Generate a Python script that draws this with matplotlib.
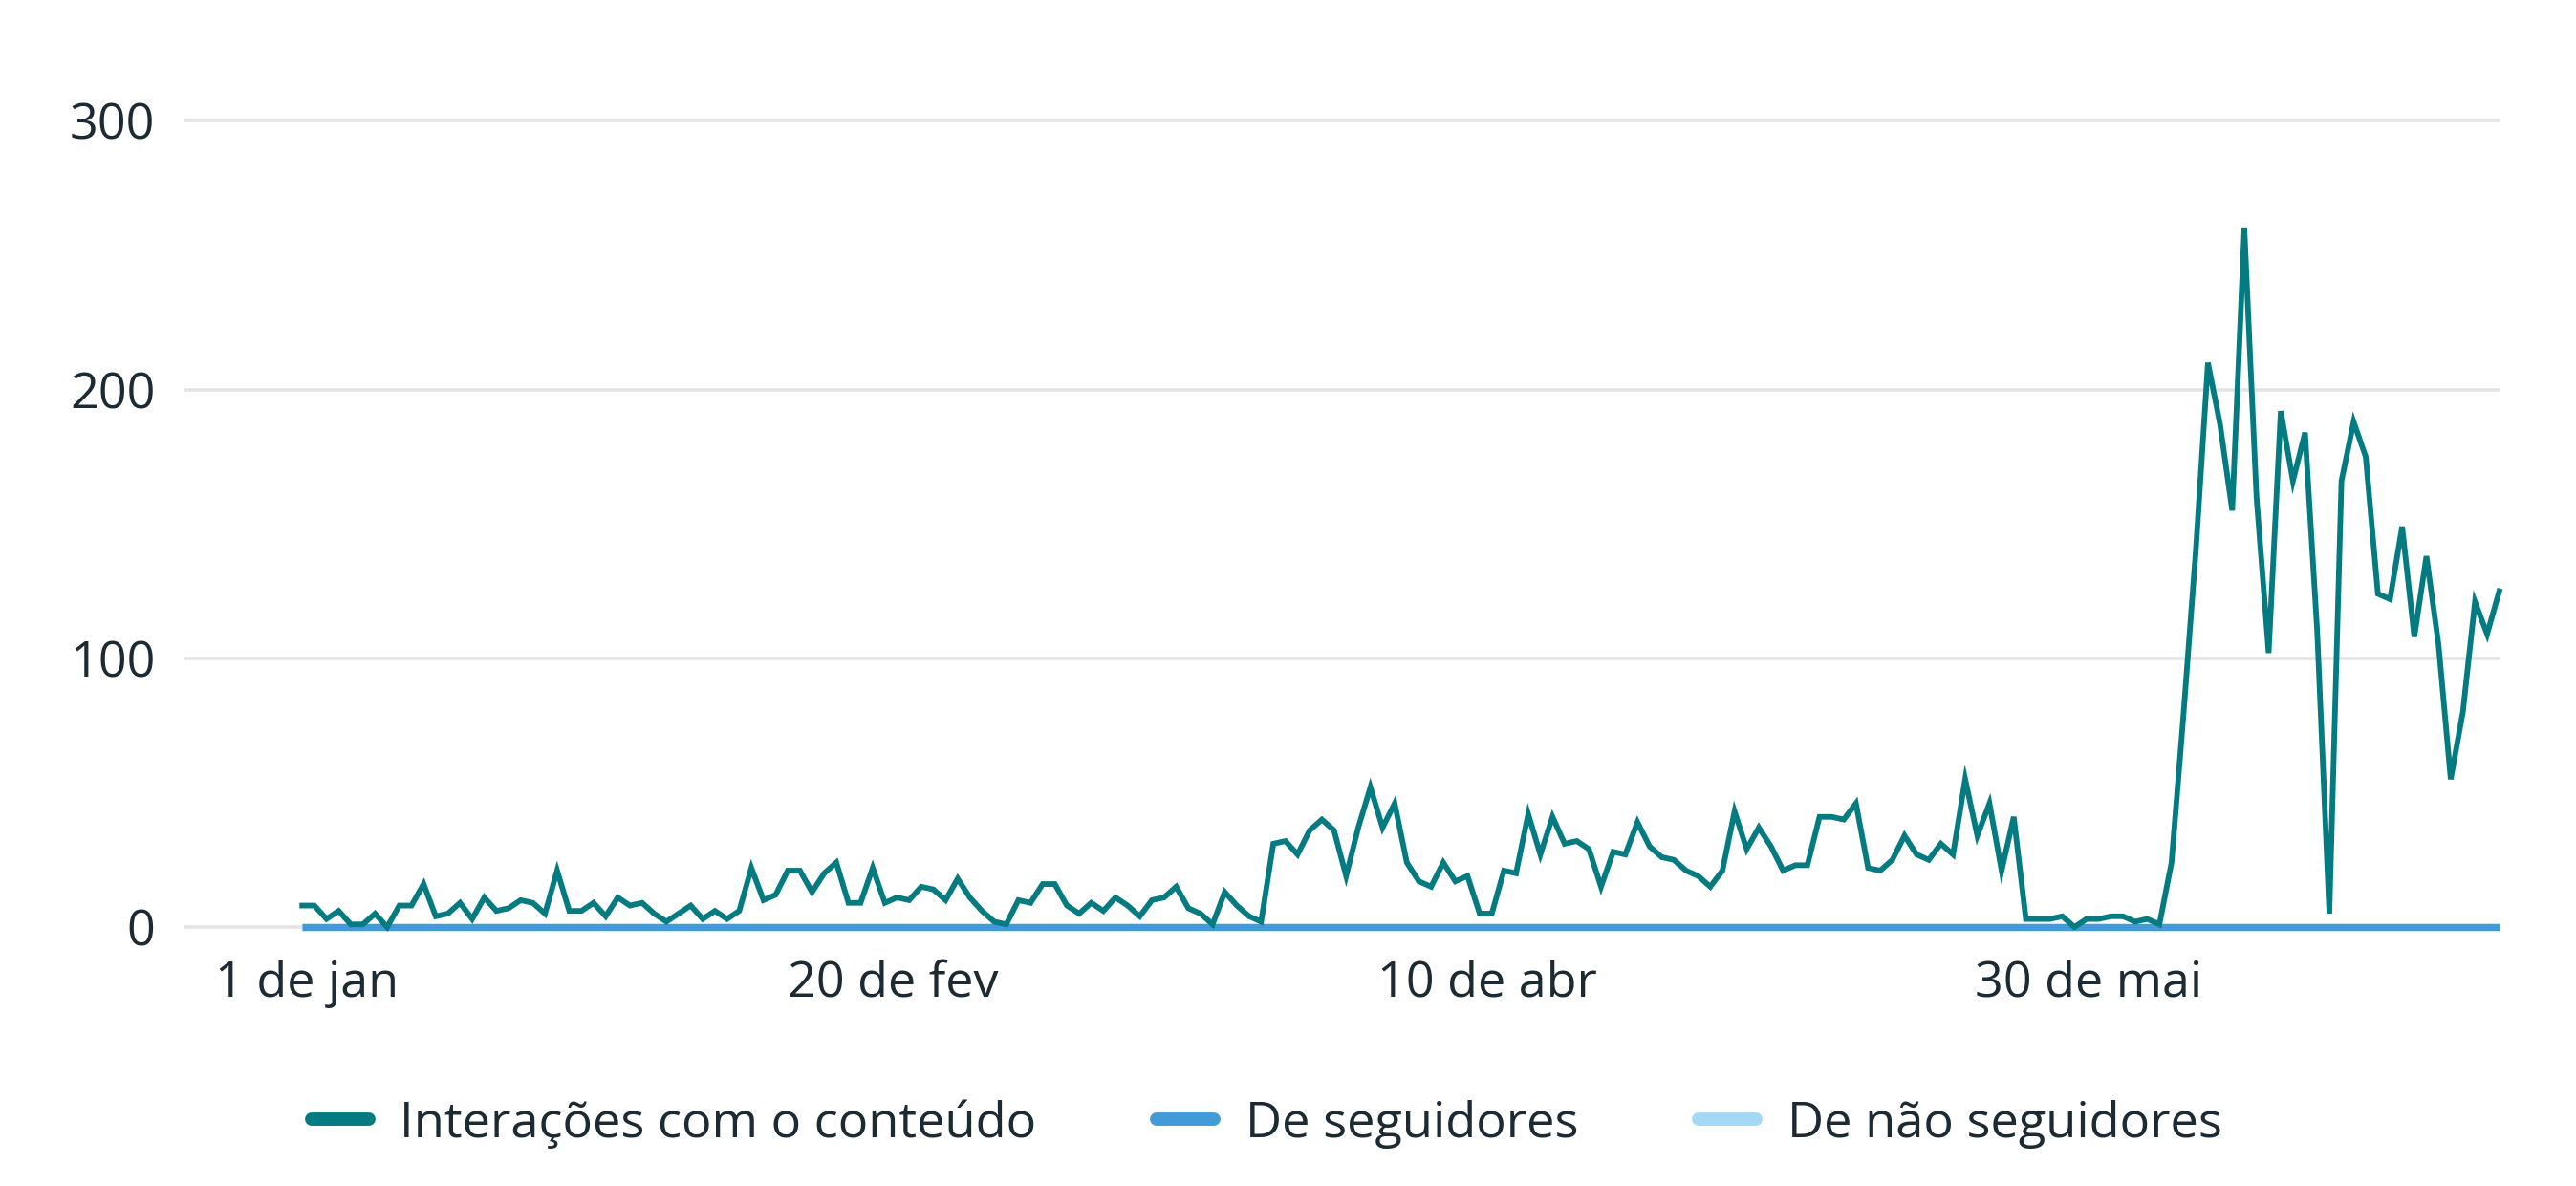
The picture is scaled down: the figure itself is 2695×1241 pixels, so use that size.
"""Interações com o conteúdo - série diária (jan a jun)."""

import matplotlib
matplotlib.use("Agg")
import matplotlib.pyplot as plt
from matplotlib.lines import Line2D
import numpy as np
import pandas as pd

# ---- dados -------------------------------------------------------------
dias = pd.date_range("2024-01-01", "2024-06-30", freq="D")

interacoes = [
    # jan
    8, 8, 3, 6, 1, 1, 5, 0, 8, 8, 16, 4, 5, 9, 3, 11, 6, 7, 10, 9, 5, 21,
    6, 6, 9, 4, 11, 8, 9, 5, 2, 5,
    # fev
    8, 3, 6, 3, 6, 22, 10, 12, 21, 21, 13, 20, 24, 9, 9, 22, 9, 11, 10, 15,
    14, 10, 18, 11, 6, 2, 1, 10, 9, 16, 16,
    # mar
    8, 5, 9, 6, 11, 8, 4, 10, 11, 15, 7, 5, 1, 13, 8, 4, 2, 31, 32, 27, 36,
    40, 36, 19, 37, 52, 37, 46, 24, 17, 15,
    # abr
    24, 17, 19, 5, 5, 21, 20, 42, 27, 41, 31, 32, 29, 15, 28, 27, 39, 30, 26,
    25, 21, 19, 15, 21, 43, 29, 37, 30, 21, 23, 23, 41, 41,
    # mai
    40, 46, 22, 21, 25, 34, 27, 25, 31, 27, 55, 34, 46, 21, 41, 3, 3, 3, 4,
    0, 3, 3, 4, 4, 2, 3, 1,
    # jun
    24, 80, 140, 210, 187, 155, 260, 160, 102, 192, 166, 184, 110, 5, 166,
    188, 175, 124, 122, 149, 108, 138, 105, 55, 80, 121, 109, 125,
]
de_seguidores = [0] * len(dias)
de_nao_seguidores = [0] * len(dias)

yticks = [0, 100, 200, 300]
xtick_labels = ["1 de jan", "20 de fev", "10 de abr", "30 de mai"]
xtick_pos = [0.4, 48.7, 97.6, 147.2]   # where the labels sit on the day axis

serie_nomes = ["Interações com o conteúdo", "De seguidores", "De não seguidores"]

# ---- estilo ------------------------------------------------------------
C_TEAL = "#037B80"
C_BLUE = "#429BD6"
C_LIGHT = "#A4D9F6"
C_GRID = "#E4E4E4"
C_TEXT = "#1C2B33"

plt.rcParams["font.family"] = ["Open Sans", "DejaVu Sans"]

W, H = 2695, 1241
fig = plt.figure(figsize=(W / 100, H / 100), dpi=100)

# axes in pixel terms: x 193..2616, y (305 -> 112.4px, -5 -> 984.1px)
left, right = 193, 2616
top, bottom = 112.4, 984.1
ax = fig.add_axes([left / W, 1 - bottom / H, (right - left) / W,
                   (bottom - top) / H])

x = np.arange(len(dias))
ax.plot(x, de_nao_seguidores, color=C_LIGHT, lw=5.3, zorder=2,
        clip_on=False, solid_capstyle="butt")
ax.plot(x, de_seguidores, color=C_BLUE, lw=5.3, zorder=3,
        clip_on=False, solid_capstyle="butt")
ax.plot(x, interacoes, color=C_TEAL, lw=4.2, zorder=4,
        clip_on=False, solid_joinstyle="miter")

ax.set_xlim(-9.7, 181.1)
ax.set_ylim(-5, 305)
ax.set_yticks(yticks)
ax.set_yticklabels([str(v) for v in yticks])
ax.set_xticks(xtick_pos)
ax.set_xticklabels(xtick_labels)

for s in ax.spines.values():
    s.set_visible(False)
ax.tick_params(axis="both", length=0, labelsize=37.5, colors=C_TEXT)
ax.tick_params(axis="y", pad=22)
ax.tick_params(axis="x", pad=14)
ax.yaxis.grid(True, color=C_GRID, lw=2.6, zorder=0)
ax.set_axisbelow(True)

handles = [Line2D([0], [0], color=c, lw=10, solid_capstyle="round")
           for c in (C_TEAL, C_BLUE, C_LIGHT)]
leg = fig.legend(handles, serie_nomes, loc="center",
                 bbox_to_anchor=(1325 / W, 1 - 1176 / H), ncol=3,
                 frameon=False, fontsize=37.7, handlelength=1.15,
                 handletextpad=0.62, columnspacing=2.4)
for t in leg.get_texts():
    t.set_color(C_TEXT)

fig.savefig("out.png", dpi=100)
